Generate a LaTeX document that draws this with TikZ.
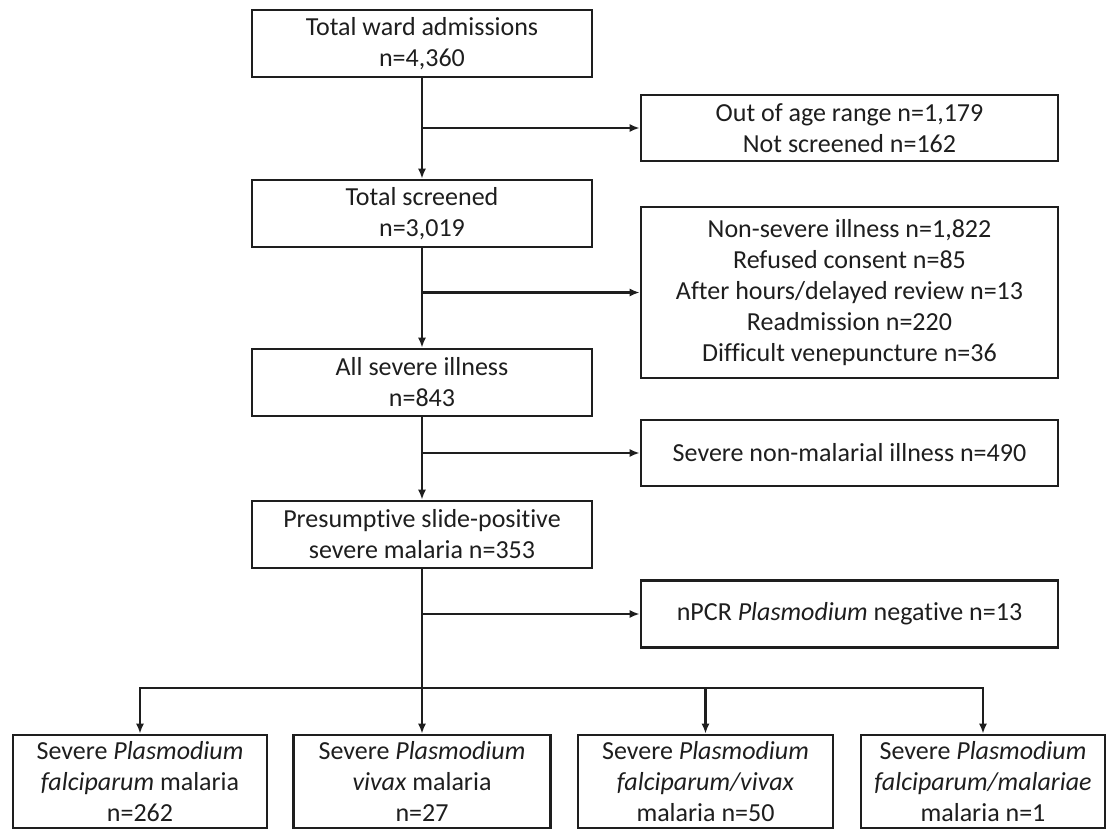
\documentclass[tikz,border=0pt]{standalone}
\usepackage{fontspec}
\setmainfont{Carlito}[Ligatures={NoCommon}]
\usetikzlibrary{arrows.meta,positioning}
\definecolor{Ink}{HTML}{1E1E1E}
\tikzset{
  >={Latex[length=10pt,width=8pt]},
  box/.style={rectangle,draw=Ink,line width=2.6pt,fill=white,align=center,inner sep=2pt,font=\fontsize{26}{31}\selectfont,text=Ink},
  flowbox/.style={box,minimum width=340pt,minimum height=67pt},
  exclbox/.style={box,minimum width=417pt},
  leafbox/.style={box,minimum height=93pt},
  trans/.style={->,line width=2.2pt,draw=Ink}
}

\begin{document}
\begin{tikzpicture}[x=1pt,y=-1pt]
  \useasboundingbox (0,0) rectangle (1106,830);
  % main column
  \node[flowbox] (adm) at (422,43.5) {Total ward admissions\\n=4,360};
  \node[flowbox] (scr) at (422,213.5) {Total screened\\n=3,019};
  \node[flowbox] (sev) at (422,382.5) {All severe illness\\n=843};
  \node[flowbox] (pres) at (422,534.5) {Presumptive slide-positive\\severe malaria n=353};
  % exclusions
  \node[exclbox,minimum height=66pt] (age) at (849.5,128) {Out of age range n=1,179\\Not screened n=162};
  \node[exclbox,minimum height=171pt] (nonsev) at (849.5,292.5) {Non-severe illness n=1,822\\Refused consent n=85\\After hours/delayed review n=13\\Readmission n=220\\Difficult venepuncture n=36};
  \node[exclbox,minimum height=66pt] (nonmal) at (849.5,453) {Severe non-malarial illness n=490};
  \node[exclbox,minimum height=67pt] (neg) at (849.5,614) {nPCR \textit{Plasmodium} negative n=13};
  % species
  \node[leafbox,minimum width=254pt] (pf) at (140,781.5) {Severe \textit{Plasmodium}\\\textit{falciparum} malaria\\n=262};
  \node[leafbox,minimum width=257pt] (pv) at (422,781.5) {Severe \textit{Plasmodium}\\\textit{vivax} malaria\\n=27};
  \node[leafbox,minimum width=255pt] (pfv) at (705.5,781.5) {Severe \textit{Plasmodium}\\\textit{falciparum/vivax}\\malaria n=50};
  \node[leafbox,minimum width=244pt] (pfm) at (983,781.5) {Severe \textit{Plasmodium}\\\textit{falciparum/malariae}\\malaria n=1};

  \coordinate (j1) at (adm.south |- age.west);
  \coordinate (j2) at (adm.south |- nonsev.west);
  \coordinate (j3) at (adm.south |- nonmal.west);
  \coordinate (j4) at (adm.south |- neg.west);
  \coordinate (bus) at (422,688);

  \draw[trans] (adm) -- (scr);
  \draw[trans] (scr) -- (sev);
  \draw[trans] (sev) -- (pres);
  \draw[trans] (pres) -- (pv);
  \draw[trans] (j1) -- (age);
  \draw[trans] (j2) -- (nonsev);
  \draw[trans] (j3) -- (nonmal);
  \draw[trans] (j4) -- (neg);
  \draw[trans] (bus) -| (pf);
  \draw[trans] (bus) -| (pfv);
  \draw[trans] (bus) -| (pfm);
\end{tikzpicture}
\end{document}
